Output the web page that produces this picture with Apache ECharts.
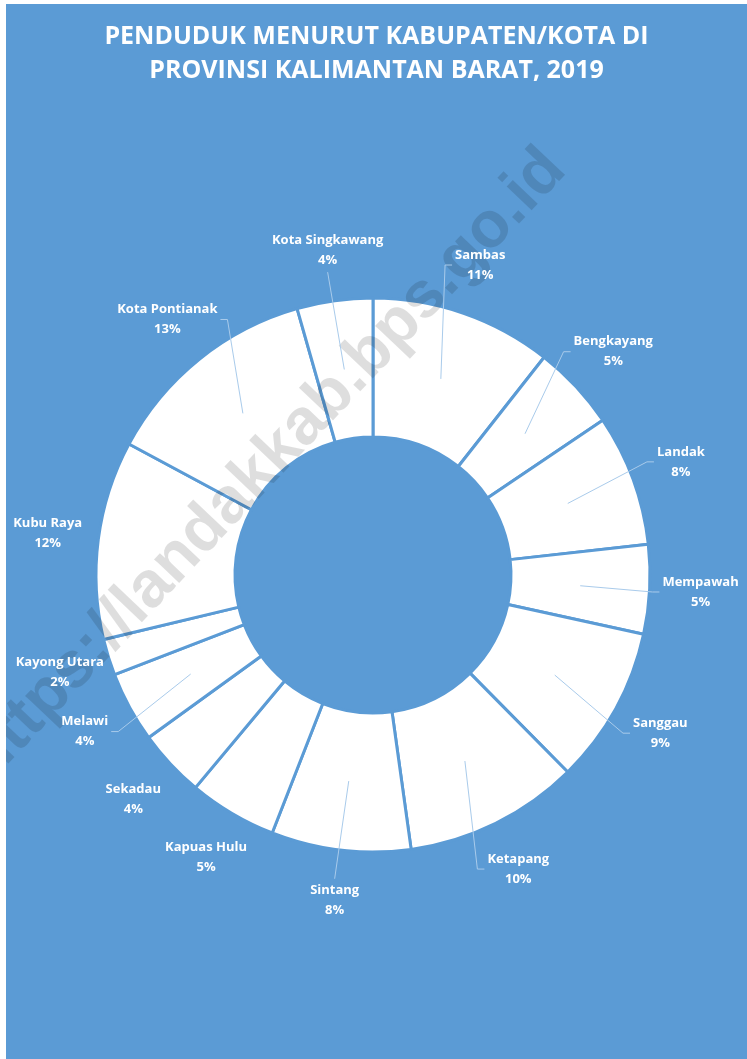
<!DOCTYPE html>
<html>
<head>
<meta charset="utf-8">
<script src="https://cdn.jsdelivr.net/npm/echarts@6/dist/echarts.min.js"></script>
<style>
  html, body { margin: 0; padding: 0; background: #fff; }
  #chart { position: absolute; left: 6px; top: 4px; width: 741px; height: 1055px; }
</style>
</head>
<body>
<div id="chart"></div>
<script>
// Penduduk per kabupaten/kota (ribu jiwa), ditaksir dari besar irisan
const kabupaten = [
  'Sambas', 'Bengkayang', 'Landak', 'Mempawah', 'Sanggau', 'Ketapang', 'Sintang',
  'Kapuas Hulu', 'Sekadau', 'Melawi', 'Kayong Utara', 'Kubu Raya', 'Kota Pontianak', 'Kota Singkawang'
];
const penduduk = [540, 253, 390, 265, 467, 520, 414, 262, 201, 210, 108, 590, 649, 225];

// label yang tidak memakai garis penunjuk
const tanpaGaris = ['Kapuas Hulu', 'Sekadau', 'Kayong Utara', 'Kubu Raya'];

const BIRU = '#5B9BD5';
const CX = 367, CY = 571;        // pusat donat
const R_IN = 138, R_OUT = 277;
const R_MID = (R_IN + R_OUT) / 2;
const R_LABEL = 328;

// sudut tengah tiap irisan, searah jarum jam dari atas
const total = penduduk.reduce((a, b) => a + b, 0);
let acc = 0;
const sudutTengah = penduduk.map(v => {
  const a = (acc + v / 2) / total * 2 * Math.PI;
  acc += v;
  return a;
});

const dataPie = kabupaten.map((nama, i) => ({
  name: nama,
  value: penduduk[i],
  labelLine: { show: tanpaGaris.indexOf(nama) < 0 }
}));

const chart = echarts.init(document.getElementById('chart'));

chart.setOption({
  backgroundColor: BIRU,
  animation: false,
  title: {
    text: 'PENDUDUK MENURUT KABUPATEN/KOTA DI\nPROVINSI KALIMANTAN BARAT, 2019',
    left: 'center',
    top: 16,
    padding: 0,
    textStyle: {
      color: '#fff',
      fontFamily: 'Open Sans',
      fontWeight: 'bold',
      fontSize: 25,
      lineHeight: 34
    }
  },
  // watermark, di atas irisan tapi di bawah label
  graphic: [{
    type: 'text',
    x: 260,
    y: 461,
    rotation: 46.6 * Math.PI / 180,
    z: 3,
    silent: true,
    style: {
      text: 'https://landakkab.bps.go.id',
      font: 'bold 65px "Liberation Sans"',
      fill: 'rgba(0,0,0,0.13)',
      align: 'center',
      verticalAlign: 'middle',
      textAlign: 'center',
      textVerticalAlign: 'middle'
    }
  }],
  series: [
    {
      // irisan putih
      type: 'pie',
      z: 2,
      center: [CX, CY],
      radius: [R_IN, R_OUT],
      startAngle: 90,
      clockwise: true,
      silent: true,
      emphasis: { disabled: true },
      itemStyle: { color: '#fff', borderColor: BIRU, borderWidth: 3 },
      label: { show: false },
      labelLine: { show: false },
      data: dataPie
    },
    {
      // lapisan transparan untuk label dan garis penunjuk
      type: 'pie',
      z: 4,
      center: [CX, CY],
      radius: [R_IN, R_OUT],
      startAngle: 90,
      clockwise: true,
      silent: true,
      percentPrecision: 0,
      avoidLabelOverlap: false,
      emphasis: { disabled: true },
      itemStyle: { color: 'rgba(0,0,0,0)', borderWidth: 0 },
      label: {
        show: true,
        position: 'outside',
        formatter: '{b}\n{d}%',
        color: '#fff',
        fontFamily: 'Open Sans',
        fontWeight: 'bold',
        fontSize: 13,
        lineHeight: 20
      },
      labelLine: {
        show: true,
        length: 10,
        length2: 10,
        lineStyle: { color: '#A9CBEB', width: 1 }
      },
      labelLayout: function (p) {
        const a = sudutTengah[p.dataIndex];
        const ux = Math.sin(a), uy = -Math.cos(a);
        const lx = CX + R_LABEL * ux, ly = CY + R_LABEL * uy;
        const w = p.labelRect.width, h = p.labelRect.height;
        const start = [CX + R_MID * ux, CY + R_MID * uy];
        let end, elbow;
        if (ux > 0.2) {
          end = [lx - w / 2 - 3, ly];
          elbow = [end[0] - 7, ly];
        } else if (ux < -0.2) {
          end = [lx + w / 2 + 3, ly];
          elbow = [end[0] + 7, ly];
        } else if (uy < 0) {
          end = [lx, ly + h / 2 + 2];
          elbow = end;
        } else {
          end = [lx, ly - h / 2 - 2];
          elbow = end;
        }
        return {
          x: lx,
          y: ly,
          align: 'center',
          verticalAlign: 'middle',
          labelLinePoints: [start, elbow, end]
        };
      },
      data: dataPie
    }
  ]
});

window.addEventListener('resize', () => chart.resize());
</script>
</body>
</html>
